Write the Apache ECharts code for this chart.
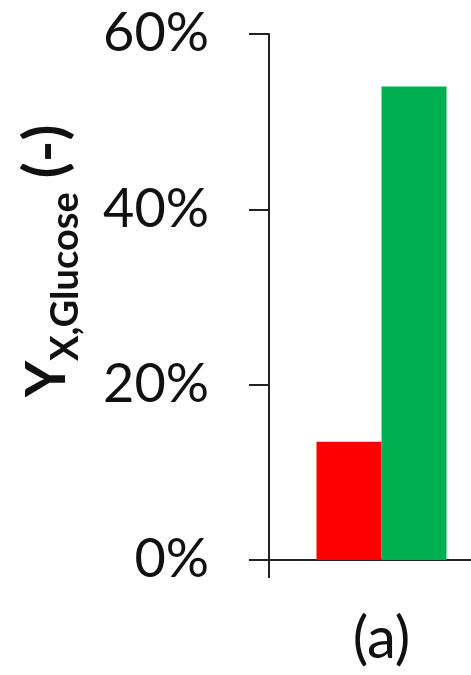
<!DOCTYPE html>
<html>
<head>
<meta charset="utf-8">
<script src="https://cdn.jsdelivr.net/npm/echarts@6/dist/echarts.min.js"></script>
<style>
  html, body { margin: 0; padding: 0; background: #fff; }
  #chart { width: 471px; height: 675px; }
</style>
</head>
<body>
<div id="chart"></div>
<script>
  // data
  var categories = ['(a)'];
  var redValues = [0.135];
  var greenValues = [0.54];
  var yMin = 0, yMax = 0.6, yStep = 0.2;

  var fontName = 'Lato';
  var axisColor = '#222';

  var chart = echarts.init(document.getElementById('chart'));
  var option = {
    backgroundColor: '#fff',
    animation: false,
    grid: {
      left: 269,
      right: -23,
      top: 34,
      bottom: 115,
      containLabel: false,
      outerBoundsMode: 'none'
    },
    xAxis: {
      type: 'category',
      data: categories,
      axisLine: { lineStyle: { color: axisColor, width: 2 } },
      axisTick: { show: true, length: 18, lineStyle: { color: axisColor, width: 2 } },
      axisLabel: { margin: 50, fontFamily: fontName, fontSize: 58, color: '#111' }
    },
    yAxis: {
      type: 'value',
      min: yMin,
      max: yMax,
      interval: yStep,
      splitLine: { show: false },
      axisLine: { show: true, lineStyle: { color: axisColor, width: 2 } },
      axisTick: { show: true, length: 20, lineStyle: { color: axisColor, width: 2 } },
      axisLabel: {
        margin: 60,
        fontFamily: fontName,
        fontSize: 54,
        color: '#111',
        formatter: function (v) { return Math.round(v * 100) + '%'; }
      },
      name: '{y|Y}{sub|X,Glucose}{p| (-)}',
      nameLocation: 'middle',
      nameGap: 194,
      nameTextStyle: {
        padding: [0, 0, 0, 72],
        rich: {
          y: { fontFamily: fontName, fontWeight: 'bold', fontSize: 56, color: '#111', verticalAlign: 'bottom' },
          sub: { fontFamily: fontName, fontWeight: 'bold', fontSize: 38, color: '#111', verticalAlign: 'bottom', padding: [0, 0, -10, 0] },
          p: { fontFamily: fontName, fontWeight: 'bold', fontSize: 58, color: '#111', verticalAlign: 'bottom' }
        }
      }
    },
    series: [
      {
        type: 'bar',
        data: redValues,
        barWidth: 65,
        barGap: '0%',
        itemStyle: { color: '#FF0000' }
      },
      {
        type: 'bar',
        data: greenValues,
        barWidth: 65,
        barGap: '0%',
        itemStyle: { color: '#00B050' }
      }
    ]
  };
  chart.setOption(option);
</script>
</body>
</html>
